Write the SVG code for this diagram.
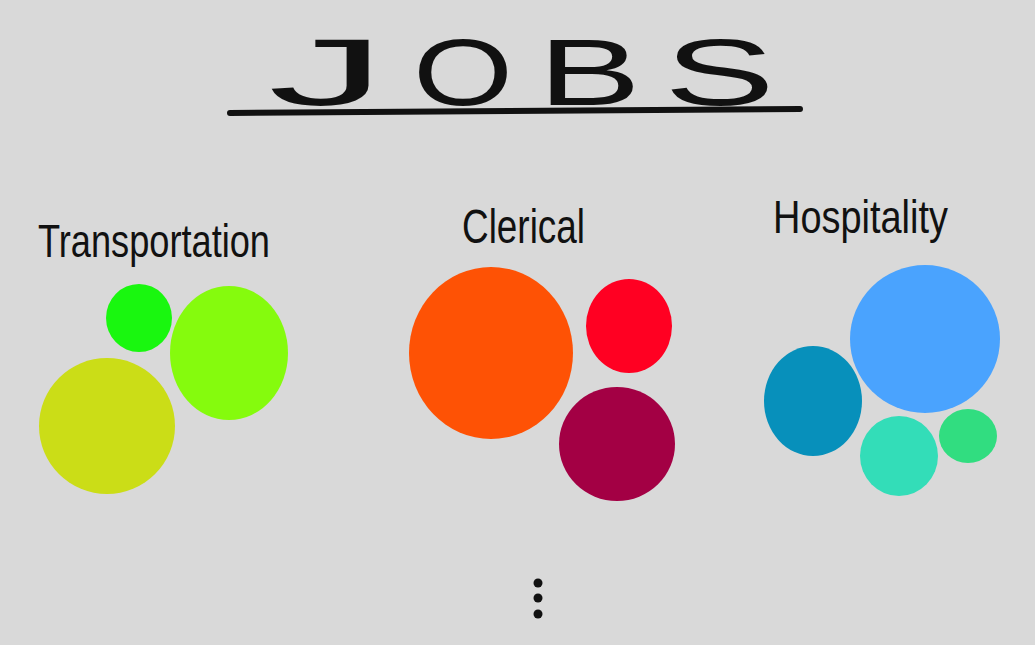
<svg xmlns="http://www.w3.org/2000/svg" width="1035" height="645" viewBox="0 0 1035 645">
<style>
.title{font-size:95px;fill:#111;}
.label{fill:#111;}
.blob{stroke:none;}
.dot{fill:#111;}
</style>
<rect x="0" y="0" width="1035" height="645" fill="#d9d9d9"/>
<g id="title" font-family="'Liberation Sans', 'DejaVu Sans', sans-serif">
<text class="title" x="268" y="105" textLength="118" lengthAdjust="spacingAndGlyphs">J</text>
<text class="title" x="413" y="105" textLength="100" lengthAdjust="spacingAndGlyphs">O</text>
<text class="title" x="538" y="105" textLength="103" lengthAdjust="spacingAndGlyphs">B</text>
<text class="title" x="664" y="105" textLength="111" lengthAdjust="spacingAndGlyphs">S</text>
<path d="M230 113 L800 109" stroke="#111" stroke-width="6" stroke-linecap="round" fill="none"/>
</g>
<g id="transportation">
<text class="label" font-family="'Liberation Sans', sans-serif" x="38" y="257" font-size="46" textLength="232" lengthAdjust="spacingAndGlyphs">Transportation</text>
<ellipse class="blob" cx="139" cy="318" rx="33" ry="34" fill="#19f70f"/>
<ellipse class="blob" cx="229" cy="353" rx="59" ry="67" fill="#85fb0d"/>
<ellipse class="blob" cx="107" cy="426" rx="68" ry="68" fill="#cbdd17"/>
</g>
<g id="clerical">
<text class="label" font-family="'Liberation Sans', sans-serif" x="462" y="243" font-size="48" textLength="123" lengthAdjust="spacingAndGlyphs">Clerical</text>
<ellipse class="blob" cx="491" cy="353" rx="82" ry="86" fill="#fe5205"/>
<ellipse class="blob" cx="629" cy="326" rx="43" ry="47" fill="#ff0022"/>
<ellipse class="blob" cx="617" cy="444" rx="58" ry="57" fill="#a30044"/>
</g>
<g id="hospitality">
<text class="label" font-family="'Liberation Sans', sans-serif" x="773" y="233" font-size="46" textLength="175" lengthAdjust="spacingAndGlyphs">Hospitality</text>
<ellipse class="blob" cx="925" cy="339" rx="75" ry="74" fill="#4aa3fe"/>
<ellipse class="blob" cx="813" cy="401" rx="49" ry="55" fill="#0790bb"/>
<ellipse class="blob" cx="899" cy="456" rx="39" ry="40" fill="#33ddb8"/>
<ellipse class="blob" cx="968" cy="436" rx="29" ry="27" fill="#31dd80"/>
</g>
<g id="more">
<circle class="dot" cx="538" cy="583" r="4.5"/>
<circle class="dot" cx="538" cy="598" r="4.5"/>
<circle class="dot" cx="538" cy="614" r="4.5"/>
</g>
</svg>
